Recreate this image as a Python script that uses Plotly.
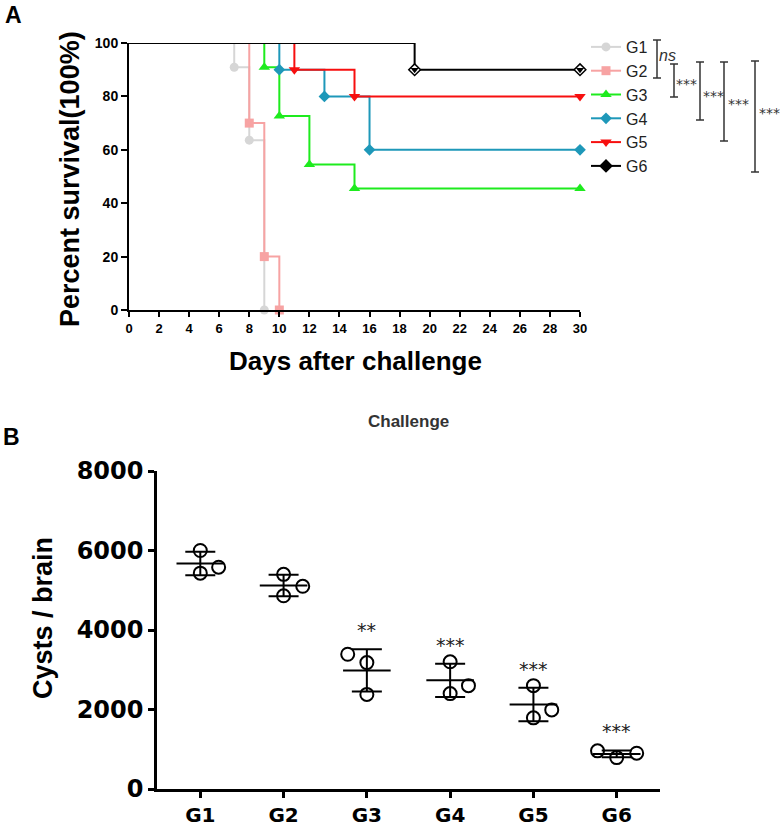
import numpy as np
import plotly.graph_objects as go

W, H = 781, 826

# ---------------- panel A : survival ----------------
groups = ["G1", "G2", "G3", "G4", "G5", "G6"]

g1_days = [0, 7, 8, 9]
g1_surv = [100, 90.9, 63.6, 0]
g2_days = [0, 8, 9, 10]
g2_surv = [100, 70, 20, 0]
g3_days = [0, 9, 10, 12, 15, 30]
g3_surv = [100, 90.9, 72.7, 54.5, 45.5, 45.5]
g4_days = [0, 10, 13, 16, 30]
g4_surv = [100, 90, 80, 60, 60]
g5_days = [0, 11, 15, 30]
g5_surv = [100, 90, 80, 80]
g6_days = [0, 19, 30]
g6_surv = [100, 90, 90]

day_ticks = list(range(0, 31, 2))
surv_ticks = [0, 20, 40, 60, 80, 100]
sig_a = ["ns", "***", "***", "***", "***"]

# ---------------- panel B : cysts ----------------
cyst_g1 = [6000, 5430, 5580]
cyst_g2 = [5400, 4860, 5100]
cyst_g3 = [3390, 3180, 2380]
cyst_g4 = [3200, 2400, 2600]
cyst_g5 = [2600, 1790, 1990]
cyst_g6 = [960, 900, 790]
cyst_ticks = [0, 2000, 4000, 6000, 8000]
sig_b = ["", "", "**", "***", "***", "***"]

# styling
colors = ["#D6D6D6", "#F7A3A3", "#1EEB1E", "#1E98B9", "#F70F0F", "#000000"]
symbols = ["circle", "square", "triangle-up", "diamond", "triangle-down", "diamond-open"]
sizes = [9, 9, 10, 9, 10, 9]
jitter = [[0, 0, 0.22], [0, 0, 0.23], [-0.23, 0, 0],
          [0, 0, 0.22], [0, 0, 0.22], [-0.23, 0.24, 0]]


def px(x):
    return x / W


def py(y):
    return 1 - y / H


FONT = "Arial, Liberation Sans, sans-serif"

fig = go.Figure()

all_days = [g1_days, g2_days, g3_days, g4_days, g5_days, g6_days]
all_surv = [g1_surv, g2_surv, g3_surv, g4_surv, g5_surv, g6_surv]

for i, g in enumerate(groups):
    fig.add_trace(go.Scatter(
        x=all_days[i], y=all_surv[i], mode="lines",
        line=dict(color=colors[i], width=2, shape="hv"),
        showlegend=False, hoverinfo="skip", cliponaxis=False,
        xaxis="x", yaxis="y"))
    if i == 5:
        # half-filled diamond: white diamond with a small black wedge
        fig.add_trace(go.Scatter(
            x=all_days[i][1:], y=all_surv[i][1:], mode="markers",
            marker=dict(symbol="diamond", size=sizes[i], color="white",
                        line=dict(color="black", width=1.5)),
            showlegend=False, cliponaxis=False, xaxis="x", yaxis="y"))
        fig.add_trace(go.Scatter(
            x=all_days[i][1:], y=all_surv[i][1:], mode="markers",
            marker=dict(symbol="triangle-down", size=7, color="black"),
            showlegend=False, cliponaxis=False, xaxis="x", yaxis="y"))
    else:
        fig.add_trace(go.Scatter(
            x=all_days[i][1:], y=all_surv[i][1:], mode="markers",
            marker=dict(symbol=symbols[i], size=sizes[i], color=colors[i]),
            showlegend=False, cliponaxis=False, xaxis="x", yaxis="y"))

# legend entries
for i, g in enumerate(groups):
    mk = dict(symbol=symbols[i], size=sizes[i], color=colors[i])
    if i == 5:
        mk = dict(symbol="diamond", size=sizes[i], color="black",
                  line=dict(color="black", width=1.5))
    fig.add_trace(go.Scatter(
        x=[None], y=[None], mode="lines+markers", name=g,
        line=dict(color=colors[i], width=2), marker=mk,
        xaxis="x", yaxis="y"))

# ---------------- panel B traces ----------------
cysts = [cyst_g1, cyst_g2, cyst_g3, cyst_g4, cyst_g5, cyst_g6]
means = [float(np.mean(v)) for v in cysts]
sds = [float(np.std(v, ddof=1)) for v in cysts]

fig.add_trace(go.Scatter(
    x=list(range(len(groups))), y=means, mode="markers",
    marker=dict(symbol="line-ew", size=34, color="black",
                line=dict(color="black", width=2)),
    error_y=dict(type="data", array=sds, visible=True, thickness=2,
                 width=15, color="black"),
    showlegend=False, cliponaxis=False, xaxis="x2", yaxis="y2"))

pt_x, pt_y = [], []
for i, vals in enumerate(cysts):
    for j, v in enumerate(vals):
        pt_x.append(i + jitter[i][j])
        pt_y.append(v)
fig.add_trace(go.Scatter(
    x=pt_x, y=pt_y, mode="markers",
    marker=dict(symbol="circle-open", size=13, color="black",
                line=dict(color="black", width=2)),
    showlegend=False, cliponaxis=False, xaxis="x2", yaxis="y2"))

annotations = []
for i, s in enumerate(sig_b):
    if s:
        annotations.append(dict(
            x=i, y=means[i] + sds[i], xref="x2", yref="y2", text=s,
            showarrow=False, yanchor="bottom", yshift=6,
            font=dict(family="DejaVu Sans", size=19, color="#222")))


def note(x, y, text, size, angle=0, color="black", family=FONT):
    return dict(x=px(x), y=py(y), xref="paper", yref="paper", text=text,
                showarrow=False, xanchor="center", yanchor="middle",
                textangle=angle, font=dict(family=family, size=size, color=color))


# panel letters and titles
annotations += [
    note(13, 15, "<b>A</b>", 23),
    note(11, 437, "<b>B</b>", 23),
    note(408, 421, "<b>Challenge</b>", 17, color="#333"),
    note(70, 179, "<b>Percent survival(100%)</b>", 27, angle=-90),
    note(355, 361, "<b>Days after challenge</b>", 26),
    note(43, 618, "<b>Cysts / brain</b>", 27, angle=-90),
]

# significance brackets beside the legend (pixel layout)
brackets = [(657, 40, 78), (674, 64, 97), (700, 62, 120), (724, 62, 141), (755, 61, 172)]
label_pos = [(667, 55), (686, 84), (713, 96), (738, 104), (769, 113)]
shapes = []
for (bx, y0, y1), (lx, ly), lab in zip(brackets, label_pos, sig_a):
    shapes.append(dict(type="line", xref="paper", yref="paper",
                       x0=px(bx), x1=px(bx), y0=py(y0), y1=py(y1),
                       line=dict(color="#333", width=1.5)))
    for yy in (y0, y1):
        shapes.append(dict(type="line", xref="paper", yref="paper",
                           x0=px(bx - 4), x1=px(bx + 4), y0=py(yy), y1=py(yy),
                           line=dict(color="#333", width=1.5)))
    if lab == "ns":
        annotations.append(note(lx, ly, "<i>ns</i>", 16, color="#333"))
    else:
        annotations.append(note(lx, ly, lab, 14, color="#333", family="DejaVu Sans"))

axis_common = dict(showgrid=False, zeroline=False, showline=True, linecolor="black",
                   ticks="outside", tickcolor="black", automargin=False)

fig.update_layout(
    width=W, height=H,
    margin=dict(l=0, r=0, t=0, b=0),
    paper_bgcolor="white", plot_bgcolor="white",
    template="none",
    font=dict(family=FONT, color="black"),
    xaxis=dict(domain=[px(129), px(580)], range=[0, 30], anchor="y",
               tickvals=day_ticks, linewidth=2, tickwidth=2, ticklen=5,
               tickfont=dict(family=FONT, size=13, weight="bold"), **axis_common),
    yaxis=dict(domain=[py(310), py(43)], range=[0, 100], anchor="x",
               tickvals=surv_ticks, linewidth=2, tickwidth=2, ticklen=6,
               tickfont=dict(family=FONT, size=14, weight="bold"), **axis_common),
    xaxis2=dict(domain=[px(157), px(660)], range=[-0.52, 5.52], anchor="y2",
                tickvals=list(range(len(groups))), ticktext=groups,
                linewidth=2.5, tickwidth=2.5, ticklen=6,
                tickfont=dict(family="DejaVu Sans", size=20, weight="bold"), **axis_common),
    yaxis2=dict(domain=[py(789), py(471)], range=[0, 8000], anchor="x2",
                tickvals=cyst_ticks, linewidth=2.5, tickwidth=2.5, ticklen=6,
                tickfont=dict(family="DejaVu Sans", size=24, weight="bold"), **axis_common),
    showlegend=True,
    legend=dict(x=px(586), y=py(30), xanchor="left", yanchor="top",
                bgcolor="rgba(0,0,0,0)", borderwidth=0,
                font=dict(family=FONT, size=16, color="#222"),
                tracegroupgap=0),
    annotations=annotations,
    shapes=shapes,
)

fig.write_html(
    "out.html",
    config={"displayModeBar": False},
    post_script="document.body.style.margin='0';document.body.style.overflow='hidden';",
)
